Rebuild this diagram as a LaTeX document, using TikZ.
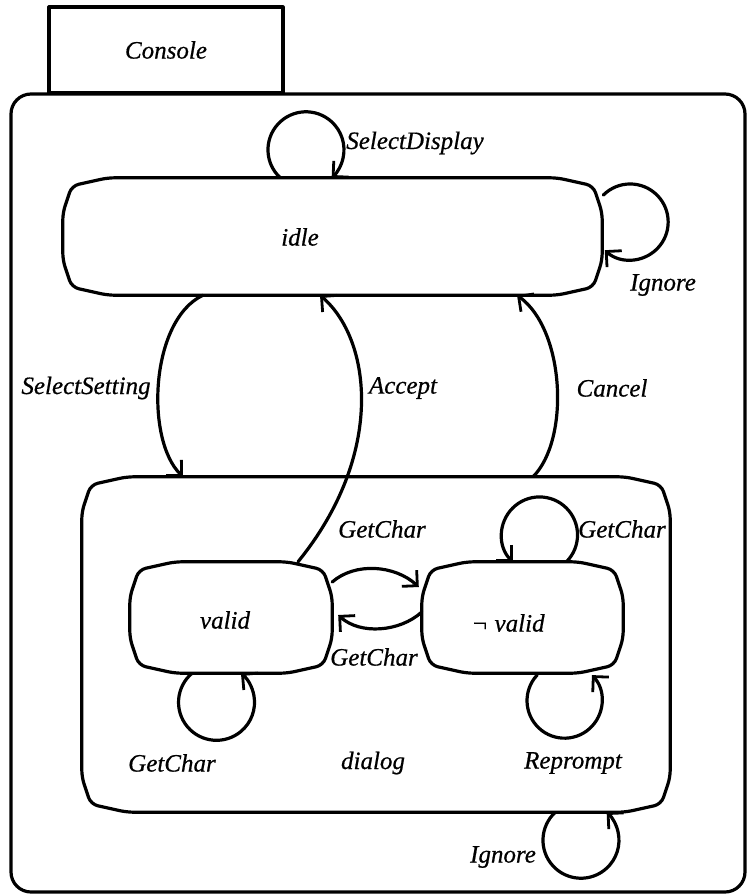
\documentclass[tikz,border=0pt]{standalone}
\usepackage{fontspec}
\setmainfont{Liberation Serif}
\newfontfamily\lblfont{Liberation Serif}[ItalicFeatures={FakeBold=0.6}]
\usetikzlibrary{arrows.meta,calc}

\tikzset{
  lbl/.style={font=\lblfont\fontsize{25}{30}\selectfont\itshape, inner sep=1pt},
  region/.style={shape=rectangle, inner sep=0pt, draw=none},
  frame/.style={line width=3.2pt},
  trans/.style={line width=3.2pt, -{Straight Barb[length=11pt,width=22pt,line width=2.8pt]}},
}

% pillow-shaped outline of a state, drawn round the named node
\newcommand\pillowstate[1]{%
  \draw[frame, rounded corners=7pt]
    ($(#1.north west)+(9,8)$) -- ($(#1.north west)+(45,0)$) --
    ($(#1.north east)+(-45,0)$) -- ($(#1.north east)+(-9,8)$) --
    ($(#1.north east)+(0,35)$) -- ($(#1.south east)+(0,-35)$) --
    ($(#1.south east)+(-9,-8)$) -- ($(#1.south east)+(-45,0)$) --
    ($(#1.south west)+(45,0)$) -- ($(#1.south west)+(9,-8)$) --
    ($(#1.south west)+(0,-35)$) -- ($(#1.north west)+(0,35)$) -- cycle;}

\begin{document}
\begin{tikzpicture}[x=1pt, y=-1pt, line join=round, line cap=round]
\useasboundingbox (0,0) rectangle (747,895);

% enclosing state and its name tab
\node[region, draw, frame, rounded corners=20pt,
      minimum width=734pt, minimum height=798pt] (console) at (378,493) {};
\node[region, draw, frame, minimum width=234pt, minimum height=86pt, lbl]
      (tab) at (166,50) {Console};

% states
\node[region, minimum width=539pt, minimum height=117pt] (idle)    at (332.5,236.5) {};
\node[region, minimum width=588pt, minimum height=335pt] (dialog)  at (376,644.5) {};
\node[region, minimum width=202pt, minimum height=111pt] (valid)   at (231,617.5) {};
\node[region, minimum width=201pt, minimum height=111pt] (invalid) at (522.5,617.5) {};
\pillowstate{idle}
\pillowstate{dialog}
\pillowstate{valid}
\pillowstate{invalid}

% state names
\node[lbl] (idlename)    at (300,237) {idle};
\node[lbl] (dialogname)  at (373,763) {dialog};
\node[lbl] (validname)   at (225,620) {valid};
\node[lbl] (invalidname) at (508,623) {¬ valid};

% transitions between idle and dialog
\draw[trans] ([xshift=-129.5pt]idle.south) .. controls +(-53,25) and +(-38,-37) .. ([xshift=-193pt]dialog.north);
\draw[trans] ([xshift=67pt]valid.north) .. controls +(87,-107) and +(52,45) .. ([xshift=-12.5pt]idle.south);
\draw[trans] ([xshift=157pt]dialog.north) .. controls +(37,-37) and +(48,35) .. ([xshift=184.5pt]idle.south);

% transitions between valid and not valid
\draw[trans] ([yshift=35.5pt]valid.east) .. controls +(23,-20) and +(-24,-22) .. ([xshift=-3pt,yshift=30.5pt]invalid.west);
\draw[trans] ([yshift=5.5pt]invalid.west) .. controls +(-22,20) and +(22,20) .. ([xshift=6pt,yshift=2.5pt]valid.east);

% self loops, drawn as circular arcs leaving and re-entering the state
\draw[trans] ([xshift=-52.2pt]idle.north) arc[start angle=227.5, end angle=-47.5, radius=38pt];
\draw[trans] ([xshift=1.1pt,yshift=41.4pt]idle.east) arc[start angle=135, end angle=-132, radius=38pt];
\draw[trans] ([xshift=-38.9pt]valid.south) arc[start angle=130, end angle=410, radius=38pt];
\draw[trans] ([xshift=43.9pt]invalid.north) arc[start angle=-45, end angle=225, radius=38pt];
\draw[trans] ([xshift=14.6pt,yshift=-1.9pt]invalid.south) arc[start angle=137, end angle=403, radius=37.5pt];
\draw[trans] ([xshift=179.3pt]dialog.south) arc[start angle=132.5, end angle=407.5, radius=38pt];

% event labels
\node[lbl] (selectdisplay) at (415,143) {SelectDisplay};
\node[lbl] (ignoretop)     at (663,285) {Ignore};
\node[lbl] (selectsetting) at (86,388)  {SelectSetting};
\node[lbl] (accept)        at (403,388) {Accept};
\node[lbl] (cancel)        at (612,388) {Cancel};
\node[lbl] (getcharfwd)    at (382,529) {GetChar};
\node[lbl] (getcharback)   at (374,657) {GetChar};
\node[lbl] (getcharloop)   at (622,529) {GetChar};
\node[lbl] (getcharvalid)  at (172,763) {GetChar};
\node[lbl] (reprompt)      at (573,763) {Reprompt};
\node[lbl] (ignorebottom)  at (503,857) {Ignore};
\end{tikzpicture}
\end{document}
